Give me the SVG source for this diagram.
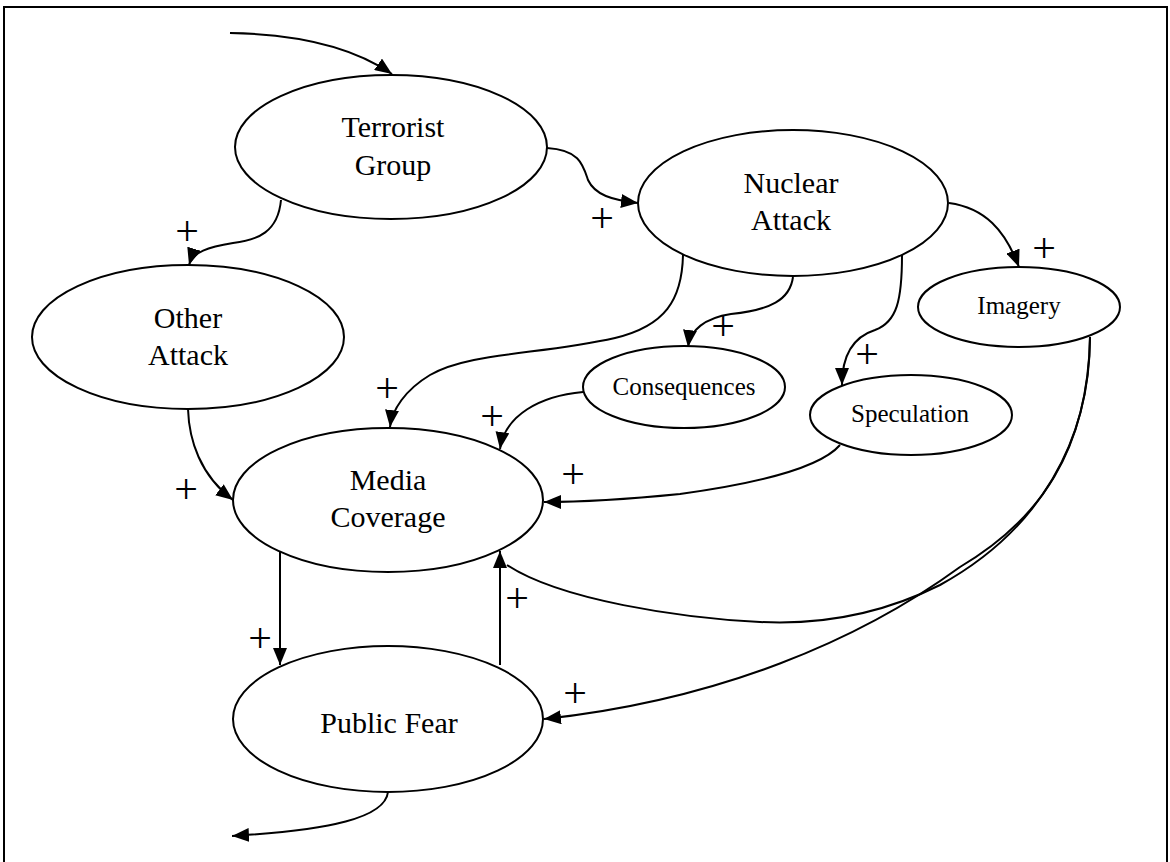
<svg xmlns="http://www.w3.org/2000/svg" width="1170" height="862" viewBox="0 0 1170 862">
<style>
.n{fill:#fff;stroke:#000;stroke-width:2}
.t{font-family:"Liberation Serif","Times New Roman",serif;font-size:30px;text-anchor:middle;fill:#000}
.s{font-family:"Liberation Serif","Times New Roman",serif;font-size:25px;text-anchor:middle;fill:#000}
.p{font-family:"Liberation Serif","Times New Roman",serif;font-size:42px;text-anchor:middle;fill:#000}
.c{fill:none;stroke:#000;stroke-width:2}
</style>
<defs>
<marker id="ah" markerUnits="userSpaceOnUse" markerWidth="18" markerHeight="14" refX="17" refY="7" orient="auto">
<path d="M0,0 L17,7 L0,14 z" fill="#000"/>
</marker>
</defs>
<rect x="4" y="7" width="1163" height="900" fill="#fff" stroke="#000" stroke-width="2"/>
<g id="nodes">
<g id="terrorist"><ellipse class="n" cx="391" cy="147" rx="156" ry="72"/><text class="t" x="393" y="137">Terrorist</text><text class="t" x="393" y="175">Group</text></g>
<g id="nuclear"><ellipse class="n" cx="793" cy="203" rx="155" ry="73"/><text class="t" x="791" y="193">Nuclear</text><text class="t" x="791" y="230">Attack</text></g>
<g id="imagery"><ellipse class="n" cx="1019" cy="307" rx="101" ry="40"/><text class="s" x="1019" y="314">Imagery</text></g>
<g id="other"><ellipse class="n" cx="188" cy="337" rx="156" ry="72"/><text class="t" x="188" y="328">Other</text><text class="t" x="188" y="365">Attack</text></g>
<g id="consequences"><ellipse class="n" cx="684" cy="387" rx="101" ry="41"/><text class="s" x="684" y="395">Consequences</text></g>
<g id="speculation"><ellipse class="n" cx="911" cy="415" rx="101" ry="40"/><text class="s" x="910" y="422">Speculation</text></g>
<g id="media"><ellipse class="n" cx="388" cy="500" rx="155" ry="72"/><text class="t" x="388" y="490">Media</text><text class="t" x="388" y="527">Coverage</text></g>
<g id="fear"><ellipse class="n" cx="388" cy="719" rx="155" ry="73"/><text class="t" x="389" y="733">Public Fear</text></g>
</g>
<g id="connectors">
<path class="c" marker-end="url(#ah)" d="M230,33 C290,34 350,45 392,74"/>
<path class="c" marker-end="url(#ah)" d="M547,148 C580,150 583,165 588,180 C595,195 612,200 638,203"/>
<path class="c" marker-end="url(#ah)" d="M281,200 C278,232 258,240 233,243 C208,247 193,252 189,265"/>
<path class="c" marker-end="url(#ah)" d="M949,203 C985,208 1005,230 1019,267"/>
<path class="c" marker-end="url(#ah)" d="M793,277 C790,300 770,310 731,314 C705,318 690,330 688,347"/>
<path class="c" marker-end="url(#ah)" d="M902,255 C902,300 897,322 875,330 C850,338 842,360 842,385"/>
<path class="c" marker-end="url(#ah)" d="M683,255 C682,300 665,326 615,338 C540,355 470,352 430,375 C405,390 392,410 390,427"/>
<path class="c" marker-end="url(#ah)" d="M188,409 C189,440 200,475 233,500"/>
<path class="c" marker-end="url(#ah)" d="M583,392 C540,396 505,415 500,449"/>
<path class="c" marker-end="url(#ah)" d="M840,445 C820,468 760,483 680,494 C620,500 580,502 544,502"/>
<path class="c" d="M1090,337 C1090,440 1040,530 940,585 C880,615 820,625 760,622 C680,618 560,600 507,565"/>
<path class="c" marker-end="url(#ah)" d="M1090,337 C1088,450 1040,520 960,567 C860,640 720,700 544,719"/>
<path class="c" marker-end="url(#ah)" d="M280,552 L280,665"/>
<path class="c" marker-end="url(#ah)" d="M500,665 L500,551"/>
<path class="c" marker-end="url(#ah)" d="M388,792 C385,818 330,830 232,836"/>
</g>
<g id="labels">
<text class="p" x="187" y="245">+</text>
<text class="p" x="602" y="232">+</text>
<text class="p" x="1044" y="262">+</text>
<text class="p" x="723" y="340">+</text>
<text class="p" x="867" y="368">+</text>
<text class="p" x="387" y="402">+</text>
<text class="p" x="492" y="430">+</text>
<text class="p" x="573" y="488">+</text>
<text class="p" x="186" y="503">+</text>
<text class="p" x="260" y="652">+</text>
<text class="p" x="517" y="612">+</text>
<text class="p" x="575" y="707">+</text>
</g>
</svg>
